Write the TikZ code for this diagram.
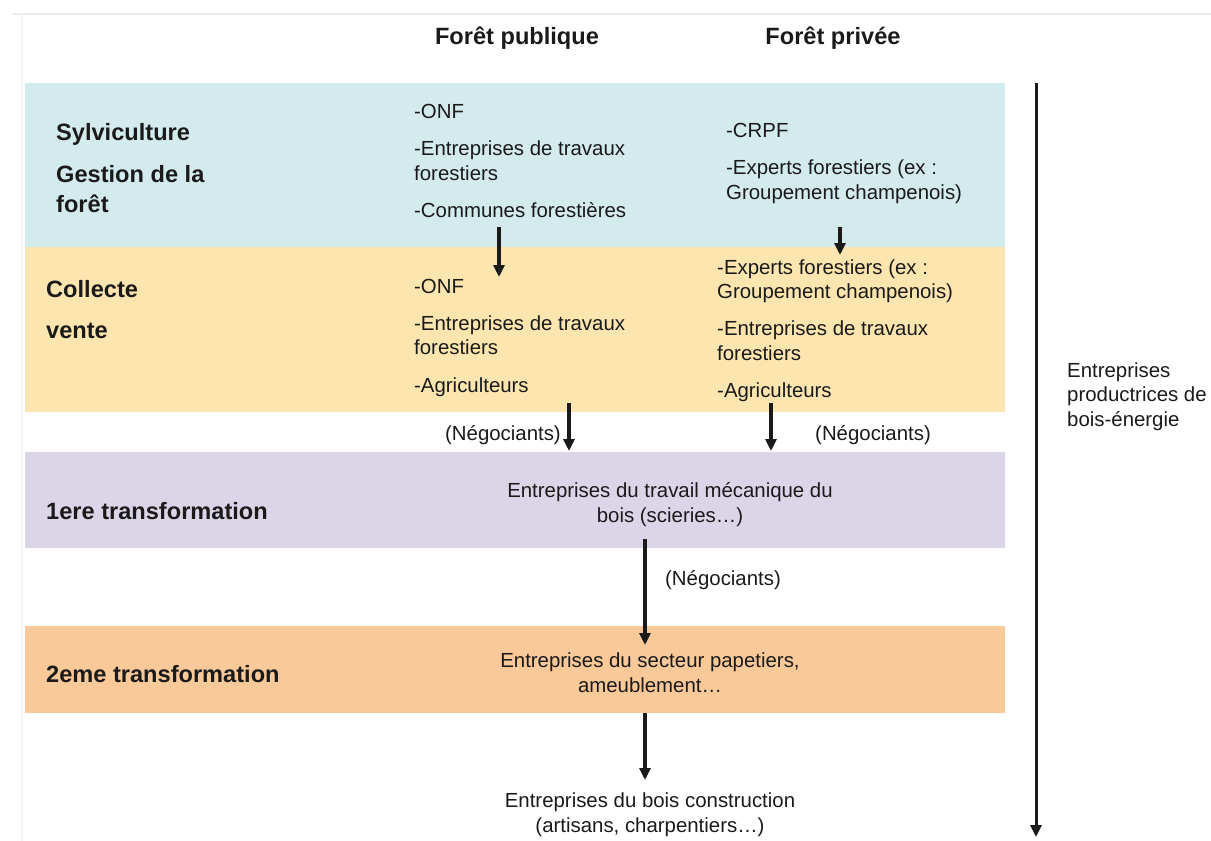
\documentclass[tikz,border=0pt]{standalone}
\usepackage{fontspec}
\setmainfont{Liberation Sans}
\usetikzlibrary{arrows.meta,positioning}
\definecolor{sylvblue}{HTML}{D4EBEE}
\definecolor{collyellow}{HTML}{FDE5AF}
\definecolor{transfpurple}{HTML}{DCD5E8}
\definecolor{transforange}{HTML}{F9C99A}
\definecolor{encre}{HTML}{1A1A1A}
\tikzset{
  etape/.style={anchor=base west,inner sep=0pt,align=left,text=encre,font=\fontsize{23.6}{30}\selectfont\bfseries},
  acteurs/.style={anchor=base west,inner sep=0pt,align=left,text=encre,font=\fontsize{20.4}{24.5}\selectfont},
  centre/.style={anchor=base,inner sep=0pt,align=center,text=encre,font=\fontsize{20.4}{24.5}\selectfont},
  flux/.style={-{Triangle[length=12pt,width=11pt]},line width=3.2pt,encre}
}

\begin{document}
\begin{tikzpicture}[x=1pt,y=-1pt]
\useasboundingbox (0,0) rectangle (1211,841);
\draw[black!8,line width=2pt] (12,14) -- (1211,14);
\draw[black!4,line width=2pt] (22,14) -- (22,841);

\fill[sylvblue] (25,83) rectangle (1005,247);
\fill[collyellow] (25,247) rectangle (1005,412);
\fill[transfpurple] (25,452) rectangle (1005,548);
\fill[transforange] (25,626) rectangle (1005,713);

\node[etape,anchor=base] (hpub) at (517,44) {Forêt publique};
\node[etape,anchor=base] (hpriv) at (833,44) {Forêt privée};

\node[etape] (sylvi) at (56,212) {Sylviculture\\[12pt]Gestion de la\\forêt};
\node[etape] (collecte) at (46,338) {Collecte\\[11pt]vente};
\node[etape] (premiere) at (46,519) {1ere transformation};
\node[etape] (deuxieme) at (46,682) {2eme transformation};

\node[acteurs] (pubgest) at (414,217) {-ONF\\[13pt]-Entreprises de travaux\\forestiers\\[12.5pt]-Communes forestières};
\node[acteurs] (pubcoll) at (414,392) {-ONF\\[12.5pt]-Entreprises de travaux\\forestiers\\[13pt]-Agriculteurs};
\node[acteurs] (privgest) at (726,199) {-CRPF\\[12.5pt]-Experts forestiers (ex :\\Groupement champenois)};
\node[acteurs] (privcoll) at (717,397) {-Experts forestiers (ex :\\Groupement champenois)\\[12.5pt]-Entreprises de travaux\\forestiers\\[12.5pt]-Agriculteurs};

\node[centre] (scieries) at (670,522) {Entreprises du travail mécanique du\\bois (scieries\dots)};
\node[centre] (papetiers) at (650,692) {Entreprises du secteur papetiers,\\ameublement\dots};
\node[centre] (construction) at (650,832) {Entreprises du bois construction\\(artisans, charpentiers\dots)};

\node[acteurs,anchor=base east] (negoA) at (561,440) {(Négociants)};
\node[acteurs] (negoB) at (815,440) {(Négociants)};
\node[acteurs] (negoC) at (665,585) {(Négociants)};
\node[acteurs] (energie) at (1067,426) {Entreprises\\productrices de\\bois-énergie};

\coordinate (pubA) at (499,227);
\coordinate (pubB) at (499,277);
\coordinate (privA) at (840,227);
\coordinate (privB) at (840,255);
\coordinate (pubC) at (569,403);
\coordinate (pubD) at (569,451);
\coordinate (privC) at (771,403);
\coordinate (privD) at (771,451);
\coordinate (transA) at (645,539);
\coordinate (transB) at (645,645);
\coordinate (transC) at (645,713);
\coordinate (transD) at (645,780);
\coordinate (filiereA) at (1036,83);
\coordinate (filiereB) at (1036,837);

\draw[flux] (pubA) -- (pubB);
\draw[flux] (privA) -- (privB);
\draw[flux] (pubC) -- (pubD);
\draw[flux] (privC) -- (privD);
\draw[flux] (transA) -- (transB);
\draw[flux] (transC) -- (transD);
\draw[flux,line width=3pt] (filiereA) -- (filiereB);
\end{tikzpicture}
\end{document}
